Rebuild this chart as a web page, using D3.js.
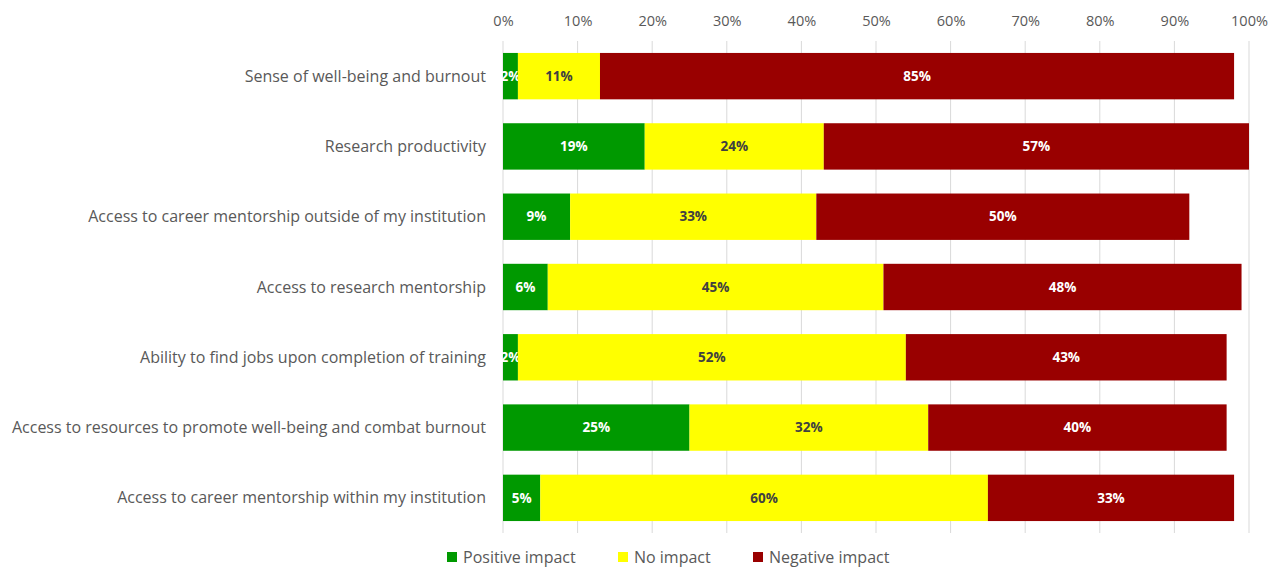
<!DOCTYPE html>
<html>
<head>
<meta charset="utf-8">
<script src="https://cdn.jsdelivr.net/npm/d3@7"></script>
<style>
  body { margin: 0; background: #fff; }
  text { font-family: "Open Sans", "Noto Sans", sans-serif; }
</style>
</head>
<body>
<svg id="chart" width="1284" height="568"></svg>
<script>
// chart data
var categories = [
    'Sense of well-being and burnout',
    'Research productivity',
    'Access to career mentorship outside of my institution',
    'Access to research mentorship',
    'Ability to find jobs upon completion of training',
    'Access to resources to promote well-being and combat burnout',
    'Access to career mentorship within my institution'
];
var positiveImpact = [2, 19, 9, 6, 2, 25, 5];
var noImpact = [11, 24, 33, 45, 52, 32, 60];
var negativeImpact = [85, 57, 50, 48, 43, 40, 33];
var seriesNames = ['Positive impact', 'No impact', 'Negative impact'];
var tickValues = [0, 10, 20, 30, 40, 50, 60, 70, 80, 90, 100];

var colors = ['#009900', '#ffff00', '#990000'];
var labelColors = ['#ffffff', '#404040', '#ffffff'];

var svg = d3.select('#chart');

var x = d3.scaleLinear().domain([0, 100]).range([503, 1249]);
var y = d3.scaleBand().domain(categories).range([41, 533]).paddingInner(0.34).paddingOuter(0.17);

// gridlines
svg.append('g').selectAll('line')
    .data(tickValues)
    .enter().append('line')
    .attr('x1', function(d) { return x(d); })
    .attr('x2', function(d) { return x(d); })
    .attr('y1', 41)
    .attr('y2', 533)
    .attr('stroke', '#d9d9d9')
    .attr('stroke-width', 1);

// top axis labels
var xAxis = d3.axisTop(x).tickValues(tickValues).tickSize(0).tickPadding(0)
    .tickFormat(function(d) { return d + '%'; });
var gx = svg.append('g').attr('transform', 'translate(0,26)').call(xAxis);
gx.select('.domain').remove();
gx.selectAll('text')
    .attr('fill', '#595959')
    .style('font-size', '14.5px')
    .style('font-family', '"Open Sans", sans-serif');

// stack
var rows = categories.map(function(c, i) {
    return { cat: c, pos: positiveImpact[i], none: noImpact[i], neg: negativeImpact[i] };
});
var stack = d3.stack().keys(['pos', 'none', 'neg']);
var series = stack(rows);

var groups = svg.append('g').selectAll('g')
    .data(series)
    .enter().append('g');

groups.each(function(s, si) {
    var g = d3.select(this);
    g.selectAll('rect')
        .data(s)
        .enter().append('rect')
        .attr('x', function(d) { return x(d[0]); })
        .attr('y', function(d) { return y(d.data.cat); })
        .attr('width', function(d) { return x(d[1]) - x(d[0]); })
        .attr('height', y.bandwidth())
        .attr('fill', colors[si]);
    g.selectAll('text')
        .data(s)
        .enter().append('text')
        .attr('x', function(d) { return (x(d[0]) + x(d[1])) / 2; })
        .attr('y', function(d) { return y(d.data.cat) + y.bandwidth() / 2; })
        .attr('dy', '0.35em')
        .attr('text-anchor', 'middle')
        .attr('fill', labelColors[si])
        .style('font-size', '13.5px')
        .style('font-weight', 'bold')
        .text(function(d) { return (d[1] - d[0]) + '%'; });
});

// category labels
svg.append('g').selectAll('text')
    .data(categories)
    .enter().append('text')
    .attr('x', 486)
    .attr('y', function(d) { return y(d) + y.bandwidth() / 2; })
    .attr('dy', '0.35em')
    .attr('text-anchor', 'end')
    .attr('fill', '#595959')
    .style('font-size', '16px')
    .text(function(d) { return d; });

// legend
var legendX = [447, 618, 753];
var legend = svg.append('g').selectAll('g')
    .data(seriesNames)
    .enter().append('g')
    .attr('transform', function(d, i) { return 'translate(' + legendX[i] + ',552)'; });
legend.append('rect')
    .attr('width', 10).attr('height', 10)
    .attr('fill', function(d, i) { return colors[i]; });
legend.append('text')
    .attr('x', 16).attr('y', 5).attr('dy', '0.35em')
    .attr('fill', '#595959')
    .style('font-size', '16px')
    .text(function(d) { return d; });
</script>
</body>
</html>
